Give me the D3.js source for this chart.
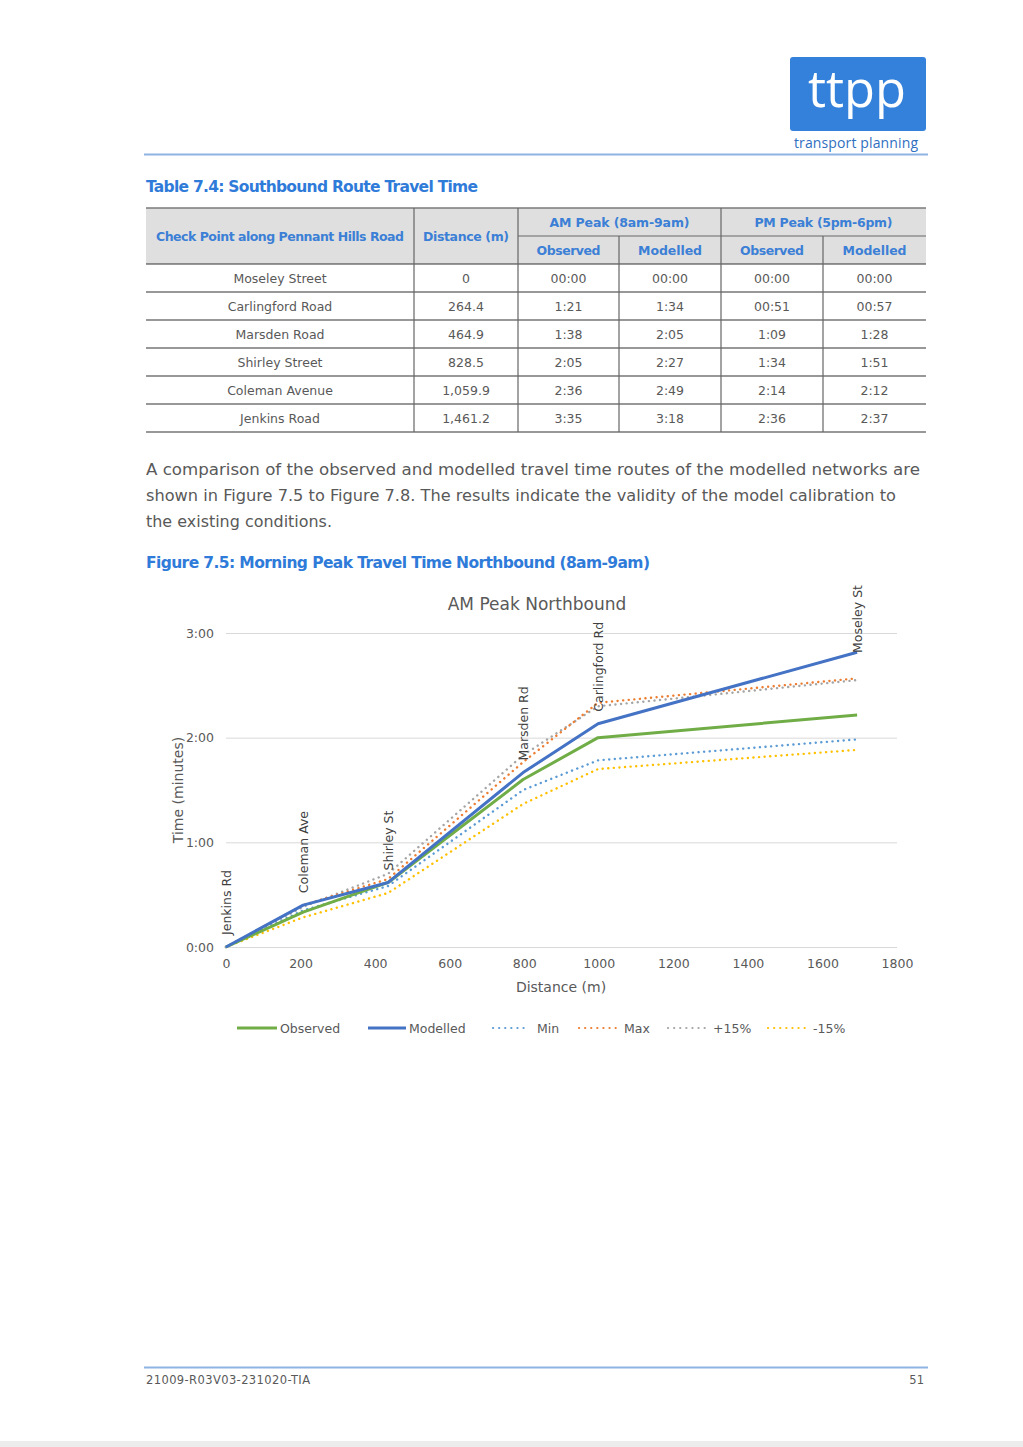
<!DOCTYPE html>
<html>
<head>
<meta charset="utf-8">
<script src="https://cdn.jsdelivr.net/npm/d3@7"></script>
<style>
  html, body { margin: 0; padding: 0; background: #fff; }
  svg text { font-family: "DejaVu Sans", sans-serif; }
</style>
</head>
<body>
<div id="page"></div>
<script>
// ---- table data ----
const checkpoints = ["Moseley Street","Carlingford Road","Marsden Road","Shirley Street","Coleman Avenue","Jenkins Road"];
const distances = ["0","264.4","464.9","828.5","1,059.9","1,461.2"];
const amObserved = ["00:00","1:21","1:38","2:05","2:36","3:35"];
const amModelled = ["00:00","1:34","2:05","2:27","2:49","3:18"];
const pmObserved = ["00:00","00:51","1:09","1:34","2:14","2:36"];
const pmModelled = ["00:00","00:57","1:28","1:51","2:12","2:37"];

// ---- chart data (seconds) ----
const pointNames = ["Jenkins Rd","Coleman Ave","Shirley St","Marsden Rd","Carlingford Rd","Moseley St"];
const pointDist = [0, 207, 435, 797, 998, 1693];
const observed = [0, 20, 37, 96, 120, 133];
const modelled = [0, 24, 37, 100, 128, 169];
const minT = [0, 21, 35, 90, 107, 119];
const maxT = [0, 24, 39, 106, 140, 154];
const plus15 = [0, 23, 42, 110, 138, 153];
const minus15 = [0, 17, 31, 82, 102, 113];
const xTicks = [0,200,400,600,800,1000,1200,1400,1600,1800];
const yTicks = [0,60,120,180];

const series = [
  {name:"Observed", values:observed, color:"#70AD47", dotted:false},
  {name:"Modelled", values:modelled, color:"#4472C4", dotted:false},
  {name:"Min", values:minT, color:"#5B9BD5", dotted:true},
  {name:"Max", values:maxT, color:"#ED7D31", dotted:true},
  {name:"+15%", values:plus15, color:"#A5A5A5", dotted:true},
  {name:"-15%", values:minus15, color:"#FFC000", dotted:true}
];

const W = 1023, H = 1447;
const blue = "#2F7BD9", grey = "#595959";

const svg = d3.select("#page").append("svg")
  .attr("width", W).attr("height", H)
  .attr("viewBox", `0 0 ${W} ${H}`);

svg.append("rect").attr("width", W).attr("height", H).attr("fill", "#fff");
svg.append("rect").attr("y", 1441).attr("width", W).attr("height", 6).attr("fill", "#ececec");

// ---- logo ----
svg.append("rect").attr("x", 790).attr("y", 57).attr("width", 136).attr("height", 74)
  .attr("rx", 3).attr("fill", "#3481DB");
svg.append("text").attr("x", 857).attr("y", 107).attr("text-anchor", "middle")
  .style("font-family", "'Open Sans', sans-serif").style("font-size", "52px")
  .attr("fill", "#fff").attr("textLength", 98).attr("lengthAdjust", "spacingAndGlyphs").text("ttpp");
svg.append("text").attr("x", 856).attr("y", 148).attr("text-anchor", "middle")
  .style("font-family", "'Open Sans', sans-serif").style("font-size", "14px")
  .attr("fill", "#2F6FC0").attr("textLength", 124).text("transport planning");

// header / footer rules
svg.append("line").attr("x1", 144).attr("x2", 928).attr("y1", 154.5).attr("y2", 154.5)
  .attr("stroke", "#8DB4E2").attr("stroke-width", 2);
svg.append("line").attr("x1", 144).attr("x2", 928).attr("y1", 1367.5).attr("y2", 1367.5)
  .attr("stroke", "#8DB4E2").attr("stroke-width", 2);
svg.append("text").attr("x", 146).attr("y", 1384).attr("fill", grey).style("font-size", "11.5px")
  .attr("textLength", 164).text("21009-R03V03-231020-TIA");
svg.append("text").attr("x", 924).attr("y", 1384).attr("fill", grey).style("font-size", "11.5px")
  .attr("text-anchor", "end").text("51");

// ---- table ----
svg.append("text").attr("x", 146).attr("y", 192).attr("fill", blue)
  .style("font-size", "15.5px").style("font-weight", "bold")
  .attr("textLength", 332).text("Table 7.4: Southbound Route Travel Time");

const colX = [146, 414, 518, 619, 721, 823, 926];
const hTop = 208, hMid = 236, hBot = 264, rowH = 28;
const tbl = svg.append("g");
tbl.append("rect").attr("x", colX[0]).attr("y", hTop).attr("width", colX[6]-colX[0])
  .attr("height", hBot-hTop).attr("fill", "#E0DFDF");

const hdr = (x, y, t) => tbl.append("text").attr("x", x).attr("y", y).attr("text-anchor", "middle")
  .attr("dominant-baseline", "central").attr("fill", "#3C7FD6")
  .style("font-size", "12.5px").style("font-weight", "bold").text(t);
hdr((colX[0]+colX[1])/2, hMid, "Check Point along Pennant Hills Road").attr("textLength", 248);
hdr((colX[1]+colX[2])/2, hMid, "Distance (m)").attr("textLength", 86);
hdr((colX[2]+colX[4])/2, (hTop+hMid)/2, "AM Peak (8am-9am)").attr("textLength", 140);
hdr((colX[4]+colX[6])/2, (hTop+hMid)/2, "PM Peak (5pm-6pm)").attr("textLength", 138);
["Observed","Modelled","Observed","Modelled"].forEach((t, i) =>
  hdr((colX[2+i]+colX[3+i])/2, (hMid+hBot)/2, t).attr("textLength", 64));

const cols = [checkpoints, distances, amObserved, amModelled, pmObserved, pmModelled];
cols.forEach((col, c) => {
  col.forEach((v, r) => {
    tbl.append("text").attr("x", (colX[c]+colX[c+1])/2).attr("y", hBot + rowH*r + rowH/2)
      .attr("text-anchor", "middle").attr("dominant-baseline", "central")
      .attr("fill", grey).style("font-size", "12.5px").text(v);
  });
});

// lines
const nRows = checkpoints.length;
const bottom = hBot + rowH*nRows;
tbl.append("line").attr("x1", colX[0]).attr("x2", colX[6]).attr("y1", hTop).attr("y2", hTop)
  .attr("stroke", "#7a7a7a").attr("stroke-width", 1.5);
tbl.append("line").attr("x1", colX[2]).attr("x2", colX[6]).attr("y1", hMid).attr("y2", hMid)
  .attr("stroke", "#666").attr("stroke-width", 1);
d3.range(nRows+1).forEach(r => {
  tbl.append("line").attr("x1", colX[0]).attr("x2", colX[6])
    .attr("y1", hBot + rowH*r).attr("y2", hBot + rowH*r)
    .attr("stroke", "#333").attr("stroke-width", 1.2);
});
colX.slice(1, 6).forEach((x, i) => {
  const top = (i === 2 || i === 4) ? hMid : hTop;
  tbl.append("line").attr("x1", x).attr("x2", x).attr("y1", top).attr("y2", bottom)
    .attr("stroke", "#666").attr("stroke-width", 1.2);
});

// ---- paragraph ----
const para = [
  ["A comparison of the observed and modelled travel time routes of the modelled networks are", 774],
  ["shown in Figure 7.5 to Figure 7.8. The results indicate the validity of the model calibration to", 750],
  ["the existing conditions.", 186]
];
para.forEach((p, i) => {
  svg.append("text").attr("x", 146).attr("y", 475 + i*26).attr("fill", grey)
    .style("font-size", "15.5px").attr("textLength", p[1]).attr("lengthAdjust", "spacingAndGlyphs").text(p[0]);
});
svg.append("text").attr("x", 146).attr("y", 568).attr("fill", blue)
  .style("font-size", "15.5px").style("font-weight", "bold")
  .attr("textLength", 504).text("Figure 7.5: Morning Peak Travel Time Northbound (8am-9am)");

// ---- chart ----
const x = d3.scaleLinear().domain([0, 1800]).range([226, 897]);
const y = d3.scaleLinear().domain([0, 180]).range([947, 633]);
const fmt = s => Math.floor(s/60) + ":" + String(s % 60).padStart(2, "0");

const chart = svg.append("g");
chart.append("text").attr("x", 537).attr("y", 610).attr("text-anchor", "middle")
  .attr("fill", grey).style("font-size", "17px").text("AM Peak Northbound");

const yAxis = chart.append("g").attr("transform", "translate(226,0)")
  .call(d3.axisLeft(y).tickValues(yTicks).tickFormat(fmt).tickSize(-671).tickPadding(12));
yAxis.select(".domain").remove();
yAxis.selectAll(".tick line").attr("stroke", "#D9D9D9");
yAxis.selectAll(".tick text").attr("fill", grey).style("font-size", "12.5px")
  .style("font-family", "'DejaVu Sans', sans-serif");

const xAxis = chart.append("g").attr("transform", "translate(0,947)")
  .call(d3.axisBottom(x).tickValues(xTicks).tickFormat(d3.format("d")).tickSize(0).tickPadding(12));
xAxis.select(".domain").remove();
xAxis.selectAll(".tick text").attr("fill", grey).style("font-size", "12.5px")
  .style("font-family", "'DejaVu Sans', sans-serif");

chart.append("text").attr("transform", "translate(178,790) rotate(-90)")
  .attr("text-anchor", "middle").attr("dominant-baseline", "central")
  .attr("fill", grey).style("font-size", "14px").text("Time (minutes)");
chart.append("text").attr("x", 561).attr("y", 992).attr("text-anchor", "middle")
  .attr("fill", grey).style("font-size", "14px").text("Distance (m)");

const line = d3.line().x((d, i) => x(pointDist[i])).y(d => y(d));
// dotted first, solid on top
[...series.filter(s => s.dotted).reverse(), ...series.filter(s => !s.dotted)].forEach(s => {
  chart.append("path").datum(s.values).attr("d", line)
    .attr("fill", "none").attr("stroke", s.color)
    .attr("stroke-width", s.dotted ? 2.4 : 3)
    .attr("stroke-linecap", s.dotted ? "round" : "butt")
    .attr("stroke-linejoin", "round")
    .attr("stroke-dasharray", s.dotted ? "0.1 5.5" : null);
});

// point labels (rotated, above modelled line, kept inside chart area)
pointNames.forEach((n, i) => {
  const px = x(pointDist[i]);
  const t = chart.append("text").attr("fill", "#404040").style("font-size", "12.5px")
    .attr("dominant-baseline", "central").text(n);
  const len = t.node().getComputedTextLength();
  let start = y(modelled[i]) - 12;
  if (start - len < 585) start = 585 + len;
  t.attr("transform", `translate(${px},${start}) rotate(-90)`);
});

// legend
const legendX = [237, 368, 493, 579, 668, 768];
const legendW = [40, 38, 36, 37, 37, 37];
const legendGap = [3, 3, 8, 8, 8, 8];
series.forEach((s, i) => {
  const g = chart.append("g").attr("transform", `translate(${legendX[i]},1028)`);
  g.append("line").attr("x1", 0).attr("x2", legendW[i]).attr("stroke", s.color)
    .attr("stroke-width", s.dotted ? 2.2 : 3)
    .attr("stroke-linecap", s.dotted ? "round" : "butt")
    .attr("stroke-dasharray", s.dotted ? "0.1 6" : null);
  g.append("text").attr("x", legendW[i] + legendGap[i]).attr("dominant-baseline", "central")
    .attr("fill", grey).style("font-size", "12.5px").text(s.name);
});
</script>
</body>
</html>
